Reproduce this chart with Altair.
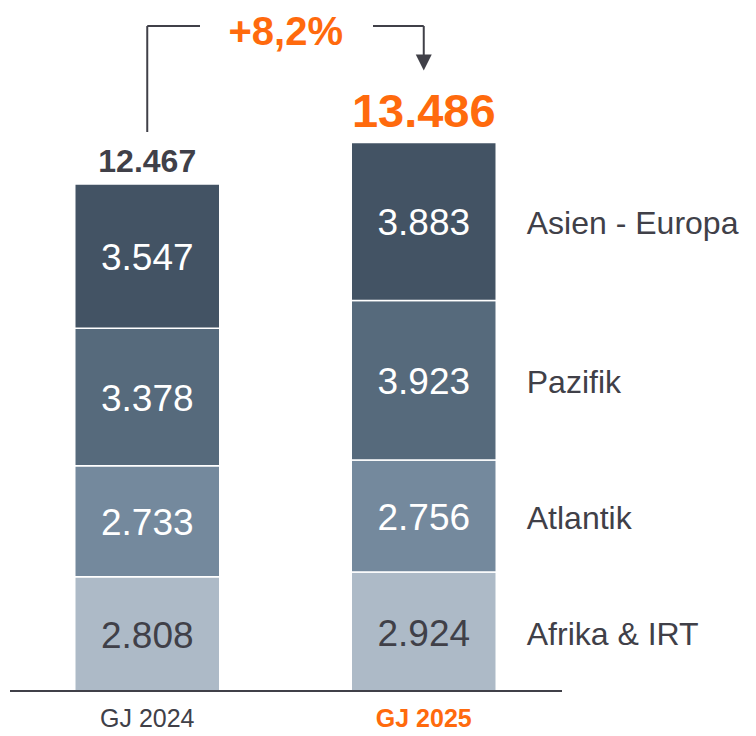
import altair as alt
import pandas as pd

# ---------------- data ----------------
years = ["GJ 2024", "GJ 2025"]
regions = ["Afrika & IRT", "Atlantik", "Pazifik", "Asien - Europa"]
values_2024 = [2808, 2733, 3378, 3547]
values_2025 = [2924, 2756, 3923, 3883]
totals = [12467, 13486]
growth_label = "+8,2%"

region_colors = ["#adbac7", "#74899d", "#566a7c", "#435364"]
text_colors = ["#404048", "#ffffff", "#ffffff", "#ffffff"]

DARK = "#404048"
ORANGE = "#ff6a0d"
FONT = "Liberation Sans"


def de_fmt(v):
    return f"{v:,}".replace(",", ".")


rows = []
for y, vals in zip(years, [values_2024, values_2025]):
    for i, (r, v) in enumerate(zip(regions, vals)):
        rows.append({"year": y, "region": r, "value": v, "order": i,
                     "label": de_fmt(v), "tcolor": text_colors[i]})
df = pd.DataFrame(rows)
df_tot = pd.DataFrame({"year": years, "total": totals,
                       "label": [de_fmt(t) for t in totals]})

# ---------------- layout constants ----------------
W, H = 553, 683
YMAX = 16794
bracket_y = 16351
left_start_y = 13745
arrow_y = 15454
pct_y = 15884

xs = alt.Scale(domain=years, paddingInner=0.4756, paddingOuter=0.2378)
ys = alt.Scale(domain=[0, YMAX], nice=False, zero=True)
X = alt.X("year:N", scale=xs, axis=None)

base = alt.Chart(df)

bars = base.mark_bar(stroke="white", strokeWidth=1.5).encode(
    x=X,
    y=alt.Y("value:Q", stack="zero", scale=ys, axis=None),
    color=alt.Color("region:N", scale=alt.Scale(domain=regions, range=region_colors), legend=None),
    order=alt.Order("order:Q"),
)

stacked = base.transform_stack(
    stack="value", as_=["y0", "y1"], groupby=["year"], sort=[alt.SortField("order")]
).transform_calculate(mid="(datum.y0 + datum.y1) / 2")

seg_text = stacked.mark_text(font=FONT, fontSize=37, baseline="middle", align="center", dy=3).encode(
    x=X,
    y=alt.Y("mid:Q", scale=ys, axis=None),
    text="label:N",
    color=alt.Color("tcolor:N", scale=None),
)

region_text = stacked.transform_filter(alt.datum.year == "GJ 2025").mark_text(
    font=FONT, fontSize=32, baseline="middle", align="left", dx=103, dy=3, color=DARK
).encode(
    x=X,
    y=alt.Y("mid:Q", scale=ys, axis=None),
    text="region:N",
)

tot_2024 = alt.Chart(df_tot).transform_filter(alt.datum.year == "GJ 2024").mark_text(
    font=FONT, fontSize=32, fontWeight="bold", color=DARK, baseline="alphabetic", dy=-12
).encode(x=X, y=alt.Y("total:Q", scale=ys, axis=None), text="label:N")

tot_2025 = alt.Chart(df_tot).transform_filter(alt.datum.year == "GJ 2025").mark_text(
    font=FONT, fontSize=47, fontWeight="bold", color=ORANGE, baseline="alphabetic", dy=-16
).encode(x=X, y=alt.Y("total:Q", scale=ys, axis=None), text="label:N")

# x labels
xlab_df = pd.DataFrame({"year": years, "zero": [0, 0]})
xlab_2024 = alt.Chart(xlab_df).transform_filter(alt.datum.year == "GJ 2024").mark_text(
    font=FONT, fontSize=25, color=DARK, baseline="alphabetic", dy=36
).encode(x=X, y=alt.Y("zero:Q", scale=ys, axis=None), text="year:N")
xlab_2025 = alt.Chart(xlab_df).transform_filter(alt.datum.year == "GJ 2025").mark_text(
    font=FONT, fontSize=25, fontWeight="bold", color=ORANGE, baseline="alphabetic", dy=36
).encode(x=X, y=alt.Y("zero:Q", scale=ys, axis=None), text="year:N")

baseline = alt.Chart(pd.DataFrame({"zero": [0]})).mark_rule(color=DARK, strokeWidth=2).encode(
    y=alt.Y("zero:Q", scale=ys, axis=None), x=alt.value(1), x2=alt.value(W)
)

# growth bracket
vert_df = pd.DataFrame({"year": years, "y": [left_start_y, arrow_y], "y2": [bracket_y, bracket_y]})
verts = alt.Chart(vert_df).mark_rule(color=DARK, strokeWidth=2).encode(
    x=X, y=alt.Y("y:Q", scale=ys, axis=None), y2="y2:Q"
)
hl_df = pd.DataFrame({"year": ["GJ 2024"], "y": [bracket_y]})
hl = alt.Chart(hl_df).mark_rule(color=DARK, strokeWidth=2).encode(
    x=X, x2=alt.value(191), y=alt.Y("y:Q", scale=ys, axis=None)
)
hr_df = pd.DataFrame({"year": ["GJ 2025"], "y": [bracket_y]})
hr = alt.Chart(hr_df).mark_rule(color=DARK, strokeWidth=2).encode(
    x=X, x2=alt.value(364), y=alt.Y("y:Q", scale=ys, axis=None)
)
arrow_df = pd.DataFrame({"year": ["GJ 2025"], "y": [arrow_y]})
arrow = alt.Chart(arrow_df).mark_point(
    shape="M-1,-1L1,-1L0,1Z", size=256, filled=True, color=DARK, opacity=1, strokeWidth=0
).encode(x=X, y=alt.Y("y:Q", scale=ys, axis=None))

pct_df = pd.DataFrame({"label": [growth_label], "y": [pct_y]})
pct = alt.Chart(pct_df).mark_text(
    font=FONT, fontSize=40, fontWeight="bold", color=ORANGE, baseline="alphabetic", align="center"
).encode(x=alt.value(276.75), y=alt.Y("y:Q", scale=ys, axis=None), text="label:N")

chart = alt.layer(
    bars, seg_text, region_text, tot_2024, tot_2025, xlab_2024, xlab_2025,
    baseline, verts, hl, hr, arrow, pct
).properties(
    width=W, height=H,
    padding={"left": 1, "top": 0, "right": 185, "bottom": 41},
    autosize=alt.AutoSizeParams(type="none"),
).configure_view(stroke=None)

chart.save("out.html", embed_options={"renderer": "svg", "actions": False})
